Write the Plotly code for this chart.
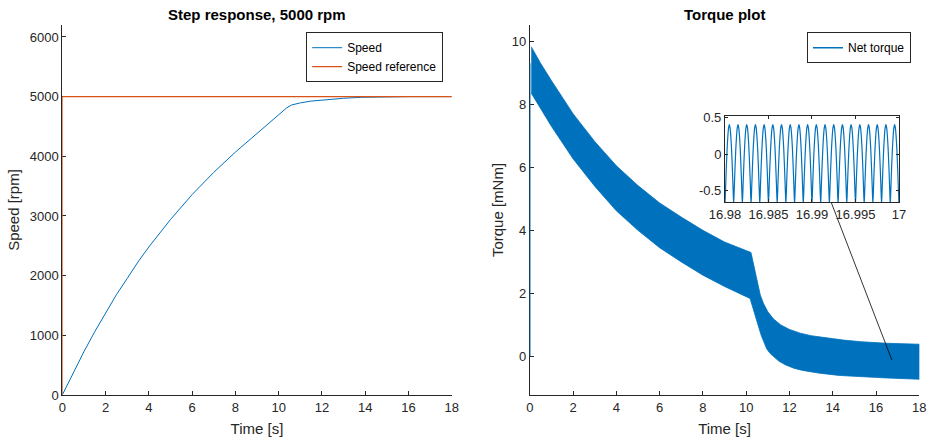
import numpy as np
import plotly.graph_objects as go

# ---------------- data ----------------
speed_t = [0, 0.5, 1, 1.5, 2, 2.5, 3, 3.5, 4, 5, 6, 7, 8, 9, 10, 10.2, 10.37, 10.6,
           11, 11.5, 12.2, 13, 13.8, 15, 16, 18]
speed_v = [0, 370, 726, 1060, 1375, 1680, 1953, 2230, 2480, 2940, 3358, 3731, 4070,
           4385, 4695, 4760, 4811, 4860, 4895, 4925, 4950, 4972, 4988, 4998, 5000, 5000]

ref_t = [0, 0, 18]
ref_v = [0, 5000, 5000]

# torque band envelopes (dense oscillation drawn as its envelope)
torque_up_t = [0.07, 0.5, 1, 2, 3, 4, 5, 6, 7, 8, 9, 10.22, 10.3, 10.36, 10.45, 10.55,
               10.65, 10.8, 11.0, 11.25, 11.6, 12.0, 12.5, 13, 13.8, 14.5, 15.3, 16.5, 18]
torque_up_v = [9.82, 9.3, 8.75, 7.7, 6.82, 6.05, 5.42, 4.87, 4.42, 4.0, 3.63, 3.30, 3.05,
               2.85, 2.5, 2.2, 1.95, 1.68, 1.42, 1.2, 1.0, 0.86, 0.74, 0.66, 0.58, 0.52,
               0.47, 0.42, 0.39]
torque_lo_t = [0.07, 0.5, 1, 2, 3, 4, 5, 6, 7, 8, 9, 10.18, 10.3, 10.4, 10.5, 10.6, 10.7,
               10.8, 10.95, 11.1, 11.25, 11.5, 11.8, 12.2, 12.6, 13, 13.4, 14.3, 15.26,
               16.5, 18]
torque_lo_v = [8.35, 7.85, 7.3, 6.27, 5.4, 4.62, 4.0, 3.45, 3.0, 2.58, 2.22, 1.84, 1.58,
               1.35, 1.12, 0.88, 0.66, 0.47, 0.24, 0.1, 0.0, -0.14, -0.26, -0.37, -0.44,
               -0.49, -0.53, -0.6, -0.64, -0.68, -0.72]
torque_start_t = [0, 0]
torque_start_v = [0, 9.3]

# inset: one period of the torque ripple (trough -> peak -> trough), 20 periods
inset_range = [16.98, 17.0]
ripple_periods = 20
ripple_cycle = [-0.70, -0.42, -0.15, 0.08, 0.25, 0.36, 0.40, 0.36, 0.25, 0.08, -0.15, -0.42]

# zoom connector (main-axes data coords): from inset bottom to the band
connector_t = [13.92, 16.73]
connector_v = [4.90, -0.11]

# ---------------- styles ----------------
BLUE = "#0072BD"
ORANGE = "#D95319"
AX = "#262626"
FONT = "Liberation Sans, Arial, Helvetica, sans-serif"

fig = go.Figure()

fig.add_trace(go.Scatter(x=speed_t, y=speed_v, mode="lines", name="Speed",
                         line=dict(color=BLUE, width=1), xaxis="x", yaxis="y",
                         legend="legend"))
fig.add_trace(go.Scatter(x=ref_t, y=ref_v, mode="lines", name="Speed reference",
                         line=dict(color=ORANGE, width=1.2), xaxis="x", yaxis="y",
                         legend="legend"))

band_x = list(torque_up_t) + list(reversed(torque_lo_t))
band_y = list(torque_up_v) + list(reversed(torque_lo_v))
fig.add_trace(go.Scatter(x=band_x, y=band_y, mode="lines", fill="toself",
                         fillcolor=BLUE, line=dict(color=BLUE, width=0.8),
                         showlegend=False, xaxis="x2", yaxis="y2", hoverinfo="skip"))
fig.add_trace(go.Scatter(x=torque_start_t, y=torque_start_v, mode="lines", name="Net torque",
                         line=dict(color=BLUE, width=1.5), xaxis="x2", yaxis="y2",
                         legend="legend2"))

n_pts = ripple_periods * len(ripple_cycle) + 1
inset_t = np.linspace(inset_range[0], inset_range[1], n_pts)
inset_v = np.array(ripple_cycle * ripple_periods + [ripple_cycle[0]])
fig.add_trace(go.Scatter(x=inset_t, y=inset_v, mode="lines", line=dict(color=BLUE, width=1.2,
                         shape="spline", smoothing=0.6),
                         showlegend=False, xaxis="x3", yaxis="y3"))

fig.add_trace(go.Scatter(x=connector_t, y=connector_v, mode="lines",
                         line=dict(color="black", width=0.8), showlegend=False,
                         xaxis="x2", yaxis="y2", hoverinfo="skip"))

tick_font = dict(family=FONT, size=13, color=AX)
title_font = dict(family=FONT, size=15, color=AX)


def axis(**kw):
    base = dict(showline=True, linecolor=AX, linewidth=1, ticks="inside", ticklen=4,
                tickcolor=AX, tickwidth=1, tickfont=tick_font, showgrid=False,
                zeroline=False, automargin=False)
    base.update(kw)
    return base


Y_DOM = [0.1043, 0.9433]
fig.update_layout(
    width=931, height=441,
    margin=dict(l=0, r=0, t=0, b=0),
    paper_bgcolor="white", plot_bgcolor="white",
    font=dict(family=FONT, color=AX),
    xaxis=axis(domain=[0.0669, 0.4852], range=[0, 18], tickvals=list(range(0, 19, 2)),
               anchor="y", title=dict(text="Time [s]", font=title_font, standoff=9)),
    yaxis=axis(domain=Y_DOM, range=[0, 6200], tickvals=list(range(0, 6001, 1000)),
               anchor="x", layer="below traces",
               title=dict(text="Speed [rpm]", font=title_font, standoff=6)),
    xaxis2=axis(domain=[0.569, 0.9875], range=[0, 18], tickvals=list(range(0, 19, 2)),
                anchor="y2", title=dict(text="Time [s]", font=title_font, standoff=9)),
    yaxis2=axis(domain=Y_DOM, range=[-1.22, 10.51], tickvals=list(range(0, 11, 2)),
                anchor="x2", layer="below traces",
                title=dict(text="Torque [mNm]", font=title_font, standoff=4)),
    xaxis3=axis(domain=[0.7787, 0.9656], range=inset_range,
                tickvals=[16.98, 16.985, 16.99, 16.995, 17.0],
                ticktext=["16.98", "16.985", "16.99", "16.995", "17"],
                anchor="y3", mirror="ticks", ticklen=3),
    yaxis3=axis(domain=[0.542, 0.7376], range=[-0.654, 0.522],
                tickvals=[-0.5, 0, 0.5], ticktext=["-0.5", "0", "0.5"],
                anchor="x3", mirror="ticks", ticklen=3),
    legend=dict(x=0.476, y=0.927, xanchor="right", yanchor="top", bgcolor="white",
                bordercolor=AX, borderwidth=1, font=dict(family=FONT, size=12, color="black"),
                itemwidth=30, tracegroupgap=0),
    legend2=dict(x=0.9785, y=0.927, xanchor="right", yanchor="top", bgcolor="white",
                 bordercolor=AX, borderwidth=1, font=dict(family=FONT, size=12, color="black"),
                 itemwidth=30),
    annotations=[
        dict(text="<b>Step response, 5000 rpm</b>", x=(0.0669 + 0.4852) / 2, y=0.966,
             xref="paper", yref="paper", showarrow=False, xanchor="center", yanchor="middle",
             font=dict(family=FONT, size=15, color="black")),
        dict(text="<b>Torque plot</b>", x=(0.569 + 0.9875) / 2, y=0.966,
             xref="paper", yref="paper", showarrow=False, xanchor="center", yanchor="middle",
             font=dict(family=FONT, size=15, color="black")),
    ],
)

fig.write_html("out.html")
